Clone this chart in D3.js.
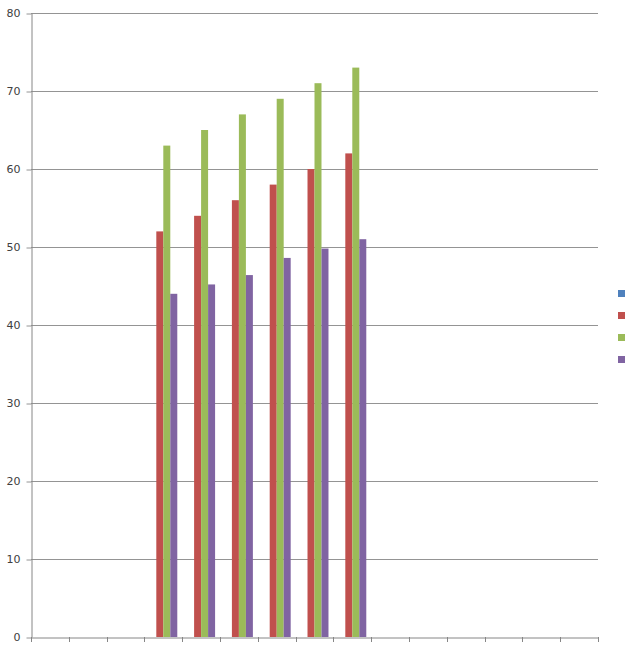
<!DOCTYPE html>
<html><head><meta charset="utf-8">
<script src="https://cdn.jsdelivr.net/npm/d3@7"></script>
<style>body{margin:0;background:#fff}svg{display:block}</style>
</head><body><svg id="c" width="640" height="654"></svg>
<script>
const categories = ["1","2","3","4","5","6","7","8","9","10","11","12","13","14","15"];
const seriesNames = ["Series1","Series2","Series3","Series4"];
const series1 = [null,null,null,0,0,0,0,0,0,null,null,null,null,null,null];
const series2 = [null,null,null,52,54,56,58,60,62,null,null,null,null,null,null];
const series3 = [null,null,null,63,65,67,69,71,73,null,null,null,null,null,null];
const series4 = [null,null,null,44,45.2,46.4,48.6,49.8,51,null,null,null,null,null,null];
const colors = ["#4F81BD","#C0504D","#9BBB59","#8064A2"];
const yTicks = [0,10,20,30,40,50,60,70,80];

const allSeries = [series1,series2,series3,series4];
const svg = d3.select("#c");
const m = {left:31, right:598, top:13, bottom:637};
const x = d3.scaleBand().domain(categories).range([m.left,m.right]);
const y = d3.scaleLinear().domain([0,80]).range([m.bottom,m.top]);
const bw = x.bandwidth();
const groupW = bw*0.74;
const xs = d3.scaleBand().domain(seriesNames).range([(bw-groupW)/2,(bw+groupW)/2]);

// gridlines
svg.append("g").selectAll("line").data(yTicks.filter(d=>d>0)).join("line")
  .attr("x1",m.left).attr("x2",m.right)
  .attr("y1",d=>y(d)+0.5).attr("y2",d=>y(d)+0.5)
  .attr("stroke","#949494").attr("stroke-width",1);

// y axis
const ya = svg.append("g").attr("transform",`translate(${m.left+0.5},0)`)
  .call(d3.axisLeft(y).tickValues(yTicks).tickSize(5).tickPadding(6).tickSizeOuter(0));
ya.select(".domain").attr("stroke","#868686");
ya.selectAll(".tick line").attr("stroke","#949494").attr("transform","translate(0,0.5)");
ya.selectAll("text").attr("font-family","DejaVu Sans, Verdana, sans-serif").attr("font-size","11px").attr("fill","#404040");

// bars
seriesNames.forEach((s,si)=>{
  svg.append("g").selectAll("rect")
    .data(categories.map((c,i)=>({c,v:allSeries[si][i]})).filter(d=>d.v!=null && d.v>0))
    .join("rect")
    .attr("x",d=>x(d.c)+xs(s))
    .attr("width",xs.bandwidth())
    .attr("y",d=>y(d.v))
    .attr("height",d=>y(0)-y(d.v))
    .attr("fill",colors[si]);
});

// x axis
const xa = svg.append("g").attr("transform",`translate(0,${m.bottom+0.5})`)
  .call(d3.axisBottom(x).tickSize(0).tickFormat(""));
xa.select(".domain").attr("stroke","#868686");
const tickPos = categories.map(c=>x(c)).concat([m.right]);
svg.append("g").selectAll("line").data(tickPos).join("line")
  .attr("x1",d=>Math.round(d)+0.5).attr("x2",d=>Math.round(d)+0.5)
  .attr("y1",m.bottom).attr("y2",m.bottom+5)
  .attr("stroke","#868686");

// legend
const lg = svg.append("g");
seriesNames.forEach((s,i)=>{
  lg.append("rect").attr("x",618).attr("y",290+i*22).attr("width",7).attr("height",7).attr("fill",colors[i]);
});
</script>
</body></html>
